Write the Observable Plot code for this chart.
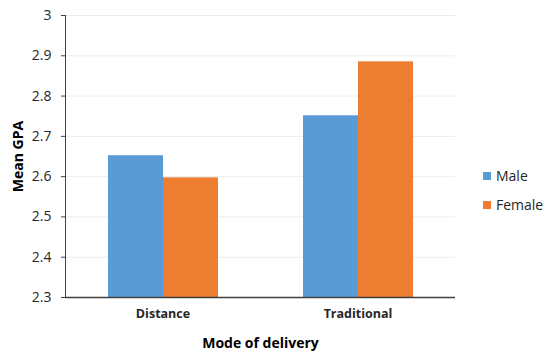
<!DOCTYPE html>
<html>
<head>
<meta charset="utf-8">
<script src="https://cdn.jsdelivr.net/npm/d3@7"></script>
<script src="https://cdn.jsdelivr.net/npm/@observablehq/plot@0.6"></script>
<style>
  body { margin: 0; background: #fff; font-family: "Open Sans", sans-serif; }
  #wrap { position: relative; width: 550px; height: 357px; }
  #legend { position: absolute; left: 483px; top: 161px; font-size: 14px; color: #262626; }
  .item { display: flex; align-items: center; height: 29px; }
  .sw { width: 8px; height: 8px; margin-right: 5px; }
  g[aria-label="y-axis label"] text, g[aria-label="fx-axis label"] text { font-weight: bold; font-size: 14px; fill: #000; }
  g[aria-label="fx-axis tick label"] text { font-weight: bold; font-size: 12.5px; fill: #262626; }
  g[aria-label="y-axis tick label"] text { font-size: 14px; fill: #262626; }
</style>
</head>
<body>
<div id="wrap"></div>
<script>
const modes = ["Distance", "Traditional"];
const sexes = ["Male", "Female"];
const maleGPA = [2.652, 2.751];
const femaleGPA = [2.597, 2.885];
const yTicks = [2.3, 2.4, 2.5, 2.6, 2.7, 2.8, 2.9, 3];
const colors = ["#5B9BD5", "#ED7D31"];

const data = [];
modes.forEach((m, i) => {
  data.push({mode: m, sex: "Male", gpa: maleGPA[i]});
  data.push({mode: m, sex: "Female", gpa: femaleGPA[i]});
});

const chart = Plot.plot({
  width: 550,
  height: 357,
  marginLeft: 64,
  marginRight: 95,
  marginTop: 15,
  marginBottom: 60,
  style: {fontFamily: "Open Sans, sans-serif", fontSize: "12px", color: "#404040", background: "#fff"},
  fx: {domain: modes, padding: 0, axis: "bottom", label: "Mode of delivery", labelAnchor: "center", labelOffset: 50, tickSize: 0, tickPadding: 12},
  x: {domain: sexes, axis: null, paddingInner: 0, paddingOuter: 0.76},
  y: {domain: [2.3, 3], ticks: yTicks, tickFormat: d => String(d), label: "Mean GPA", labelAnchor: "center", labelOffset: 52, tickSize: 4, tickPadding: 10, line: true, grid: true},
  color: {domain: sexes, range: colors},
  marks: [
    Plot.barY(data, {fx: "mode", x: "sex", y1: 2.3, y2: "gpa", fill: "sex"}),
    Plot.ruleY([2.3], {stroke: "#404040", strokeWidth: 1.5})
  ]
});
document.getElementById("wrap").appendChild(chart);

chart.querySelectorAll('g[aria-label="y-grid"]').forEach(g => { g.setAttribute("stroke", "#d9d9d9"); g.setAttribute("stroke-opacity", "1"); });
chart.querySelectorAll('g[aria-label="y-axis label"] text, g[aria-label="fx-axis label"] text').forEach(t => {
  t.textContent = t.textContent.replace(/[\u2190-\u2193]/g, "").trim();
});
chart.querySelectorAll('g[aria-label="y-axis"]').forEach(g => { g.setAttribute("stroke", "#404040"); });

const legend = document.createElement("div");
legend.id = "legend";
sexes.forEach((s, i) => {
  const it = document.createElement("div");
  it.className = "item";
  const sw = document.createElement("span");
  sw.className = "sw";
  sw.style.background = colors[i];
  const t = document.createElement("span");
  t.textContent = s;
  it.appendChild(sw); it.appendChild(t);
  legend.appendChild(it);
});
document.getElementById("wrap").appendChild(legend);
</script>
</body>
</html>
